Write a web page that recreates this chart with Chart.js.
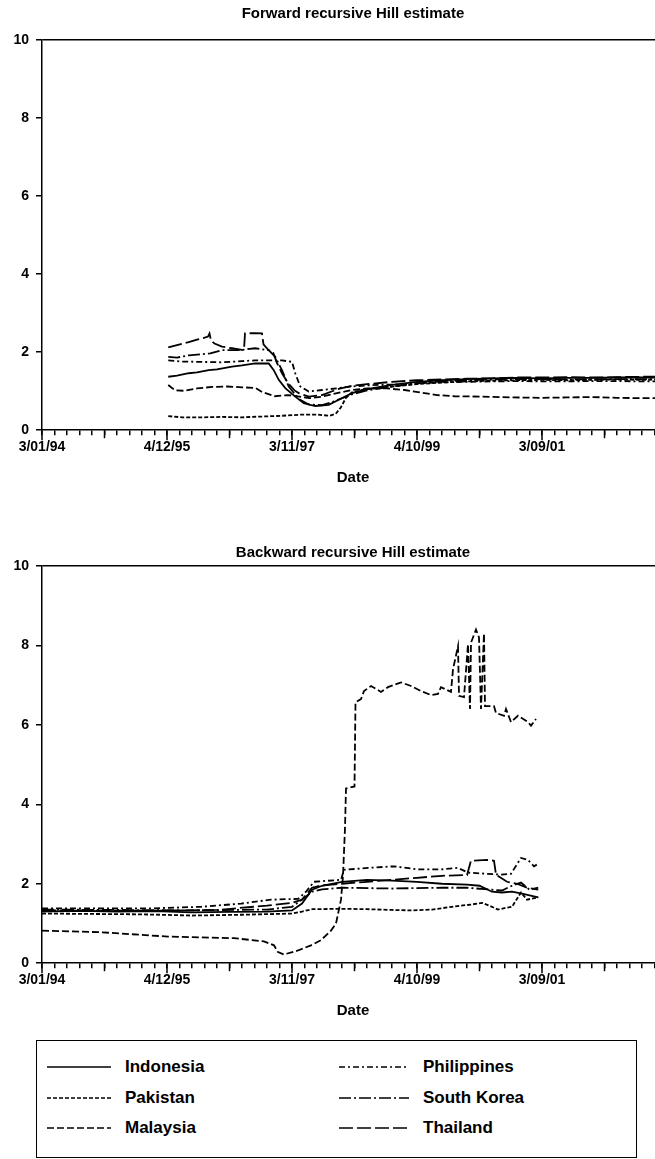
<!DOCTYPE html>
<html><head><meta charset="utf-8">
<script src="https://cdn.jsdelivr.net/npm/chart.js@4.4.1/dist/chart.umd.min.js"></script>
<style>
html,body{margin:0;padding:0;background:#fff;}
body{width:655px;height:1159px;overflow:hidden;position:relative;font-family:"Liberation Sans",Arial,sans-serif;}
.wrap{position:absolute;left:0;}
#w1{top:0;}
#w2{top:530px;}
#legend{position:absolute;left:36px;top:1040px;width:601px;height:118px;border:1.5px solid #000;box-sizing:border-box;}
.item{position:absolute;display:flex;align-items:center;font-weight:bold;font-size:17px;color:#000;height:24px;}
.item svg{margin-right:14px;}
</style></head>
<body>
<div class="wrap" id="w1"><canvas id="c1" width="664" height="491"></canvas></div>
<div class="wrap" id="w2"><canvas id="c2" width="664" height="494"></canvas></div>
<div id="legend"></div>
<script>
// ---- data ----
const dateLabels = ['3/01/94', '4/12/95', '3/11/97', '4/10/99', '3/09/01'];
const labelObs = [0, 500, 1000, 1500, 2000];
const yTicks = [0, 2, 4, 6, 8, 10];
const countries = ['Indonesia', 'Pakistan', 'Malaysia', 'Philippines', 'South Korea', 'Thailand'];

// Forward recursive Hill estimate: [observation index, estimate]
const fwdIndonesia = [[505,1.37],[540,1.40],[587,1.46],[620,1.48],[667,1.54],[700,1.56],[760,1.63],[800,1.66],[853,1.71],[907,1.71],[927,1.54],[947,1.29],[973,1.08],[1013,0.86],[1047,0.69],[1093,0.62],[1147,0.65],[1187,0.78],[1240,0.95],[1300,1.05],[1400,1.16],[1500,1.24],[1600,1.28],[1700,1.31],[1800,1.33],[1900,1.34],[2000,1.33],[2100,1.34],[2200,1.34],[2300,1.35],[2400,1.35],[2470,1.35]];
const fwdPakistan = [[505,0.36],[560,0.33],[640,0.33],[720,0.34],[800,0.33],[880,0.35],[960,0.37],[1040,0.40],[1100,0.40],[1150,0.37],[1175,0.42],[1195,0.58],[1215,0.82],[1240,0.97],[1280,1.03],[1340,1.08],[1420,1.13],[1500,1.18],[1600,1.22],[1700,1.25],[1800,1.27],[1900,1.28],[2000,1.29],[2100,1.28],[2200,1.29],[2300,1.30],[2400,1.29],[2470,1.30]];
const fwdMalaysia = [[505,1.16],[520,1.08],[535,1.02],[570,1.01],[620,1.07],[680,1.11],[740,1.12],[800,1.10],[855,1.08],[880,0.98],[930,0.87],[985,0.90],[1030,0.86],[1070,0.82],[1120,0.86],[1180,0.95],[1240,1.03],[1300,1.07],[1380,1.07],[1450,1.03],[1520,0.96],[1580,0.90],[1650,0.87],[1760,0.86],[1880,0.84],[2000,0.83],[2100,0.84],[2200,0.85],[2300,0.83],[2400,0.82],[2470,0.82]];
const fwdPhilippines = [[505,1.79],[560,1.76],[640,1.75],[720,1.74],[800,1.77],[853,1.79],[960,1.79],[1000,1.75],[1013,1.46],[1033,1.12],[1067,0.99],[1120,1.03],[1240,1.12],[1300,1.15],[1400,1.17],[1500,1.20],[1600,1.23],[1700,1.24],[1800,1.25],[1900,1.26],[2000,1.25],[2100,1.25],[2200,1.26],[2300,1.26],[2400,1.25],[2470,1.25]];
const fwdSouthKorea = [[505,1.88],[540,1.86],[587,1.92],[640,1.95],[673,1.97],[720,2.05],[787,2.05],[853,2.10],[907,2.05],[933,1.88],[960,1.54],[987,1.12],[1027,0.80],[1067,0.66],[1120,0.64],[1160,0.72],[1240,0.92],[1300,1.02],[1400,1.12],[1500,1.20],[1600,1.25],[1700,1.28],[1800,1.30],[1900,1.31],[2000,1.31],[2100,1.30],[2200,1.30],[2300,1.31],[2400,1.31],[2470,1.31]];
const fwdThailand = [[505,2.12],[540,2.18],[587,2.26],[620,2.32],[645,2.36],[664,2.40],[670,2.48],[676,2.30],[690,2.22],[720,2.14],[760,2.10],[800,2.06],[808,2.06],[812,2.48],[850,2.49],[880,2.48],[886,2.20],[905,2.06],[925,1.98],[940,1.72],[960,1.46],[985,1.20],[1010,1.02],[1027,0.95],[1067,0.86],[1120,0.90],[1187,1.06],[1240,1.14],[1300,1.18],[1400,1.24],[1500,1.28],[1600,1.30],[1700,1.32],[1800,1.33],[1900,1.35],[2000,1.35],[2100,1.36],[2200,1.35],[2300,1.36],[2400,1.37],[2470,1.37]];

// Backward recursive Hill estimate: [observation index, estimate]
const bwdIndonesia = [[0,1.30],[150,1.32],[300,1.30],[450,1.31],[600,1.28],[750,1.29],[900,1.30],[1000,1.33],[1040,1.50],[1080,1.85],[1120,1.95],[1200,2.05],[1300,2.10],[1400,2.08],[1500,2.05],[1600,2.00],[1700,1.98],[1750,1.95],[1800,1.80],[1840,1.78],[1880,1.80],[1920,1.75],[1985,1.66]];
const bwdPakistan = [[0,1.25],[200,1.24],[400,1.23],[600,1.20],[800,1.22],[1000,1.25],[1040,1.30],[1080,1.36],[1200,1.37],[1300,1.36],[1400,1.34],[1480,1.33],[1560,1.35],[1640,1.42],[1720,1.48],[1760,1.52],[1800,1.42],[1824,1.35],[1860,1.40],[1880,1.42],[1916,1.78],[1940,1.60],[1985,1.66]];
const bwdMalaysia = [[0,0.82],[236,0.78],[504,0.67],[768,0.63],[888,0.55],[928,0.45],[944,0.28],[968,0.22],[1024,0.32],[1076,0.45],[1116,0.58],[1156,0.82],[1176,1.0],[1196,1.6],[1204,2.2],[1212,3.4],[1216,4.4],[1250,4.45],[1254,6.57],[1276,6.65],[1288,6.85],[1316,6.98],[1356,6.83],[1384,6.95],[1436,7.07],[1476,6.98],[1516,6.85],[1556,6.75],[1584,6.78],[1596,6.95],[1636,6.83],[1644,7.4],[1664,7.98],[1668,6.73],[1688,6.7],[1704,8.03],[1712,6.4],[1716,8.07],[1736,8.4],[1748,8.2],[1756,6.4],[1768,8.3],[1772,6.47],[1808,6.47],[1816,6.3],[1848,6.23],[1856,6.4],[1876,6.07],[1904,6.23],[1944,6.07],[1956,5.98],[1976,6.15]];
const bwdPhilippines = [[0,1.38],[436,1.38],[636,1.42],[796,1.50],[916,1.60],[1024,1.62],[1056,1.80],[1088,2.05],[1196,2.10],[1208,2.35],[1304,2.40],[1408,2.44],[1504,2.36],[1596,2.36],[1664,2.40],[1704,2.28],[1836,2.23],[1876,2.25],[1916,2.65],[1944,2.60],[1968,2.44],[1984,2.50]];
const bwdSouthKorea = [[0,1.35],[300,1.34],[600,1.33],[900,1.35],[1000,1.42],[1040,1.60],[1080,1.80],[1120,1.86],[1200,1.90],[1400,1.88],[1600,1.90],[1700,1.90],[1800,1.85],[1840,1.83],[1880,1.95],[1916,2.03],[1950,1.85],[1985,1.90]];
const bwdThailand = [[0,1.33],[400,1.32],[700,1.34],[900,1.45],[1000,1.52],[1040,1.60],[1080,1.90],[1120,1.96],[1200,2.00],[1300,2.05],[1400,2.10],[1500,2.15],[1600,2.20],[1700,2.22],[1716,2.58],[1780,2.60],[1808,2.58],[1816,2.23],[1860,2.05],[1900,2.00],[1940,1.90],[1985,1.85]];

// ---- styles ----
const FONT = '"Liberation Sans", Arial, sans-serif';
const dashes = {
  'Indonesia': [],
  'Pakistan': [4, 2],
  'Malaysia': [7, 3],
  'Philippines': [6, 3, 2, 3],
  'South Korea': [12, 3, 2, 3],
  'Thailand': [14, 4]
};
const X_MAX = 2488;

function toPts(arr) { return arr.map(p => ({x: p[0], y: p[1]})); }

const majorTicks = {
  id: 'majorTicks',
  afterDraw(chart) {
    const xs = chart.scales.x, ctx = chart.ctx, y0 = chart.chartArea.bottom;
    ctx.save();
    ctx.strokeStyle = '#000';
    ctx.lineWidth = 1.5;
    for (let v = 0; v <= xs.max; v += 250) {
      const px = xs.getPixelForValue(v);
      ctx.beginPath();
      ctx.moveTo(px, y0);
      ctx.lineTo(px, y0 + (v % 500 === 0 ? 10 : 8));
      ctx.stroke();
    }
    ctx.restore();
  }
};

function makeChart(id, title, seriesList, titlePad) {
  const datasets = countries.map((name, i) => ({
    label: name,
    data: toPts(seriesList[i]),
    borderColor: '#000',
    borderWidth: 1.8,
    borderDash: dashes[name],
    pointRadius: 0,
    tension: 0,
    fill: false
  }));
  return new Chart(document.getElementById(id), {
    type: 'line',
    data: {datasets},
    plugins: [majorTicks],
    options: {
      responsive: false,
      animation: false,
      events: [],
      layout: {padding: 0},
      plugins: {
        legend: {display: false},
        tooltip: {enabled: false},
        title: {
          display: true, text: title, fullSize: false, color: '#000',
          font: {family: FONT, size: 15, weight: 'bold'},
          padding: titlePad
        }
      },
      scales: {
        x: {
          type: 'linear', min: 0, max: X_MAX,
          afterBuildTicks(s) { const t = []; for (let v = 0; v <= X_MAX; v += 50) t.push({value: v}); s.ticks = t; },
          ticks: {
            autoSkip: false, maxRotation: 0, padding: 4, color: '#000',
            font: {family: FONT, size: 14, weight: 'bold'},
            callback: (v) => { const i = labelObs.indexOf(v); return i >= 0 ? dateLabels[i] : ''; }
          },
          grid: {drawOnChartArea: false, tickLength: 5, tickColor: '#000', lineWidth: 1.5},
          border: {display: true, color: '#000', width: 1.5},
          title: {display: true, text: 'Date', color: '#000', font: {family: FONT, size: 15, weight: 'bold'}, padding: {top: 9, bottom: 4}}
        },
        y: {
          min: 0, max: 10,
          afterFit(s) { s.width = 42; },
          afterBuildTicks(s) { s.ticks = yTicks.map(v => ({value: v})); },
          ticks: {padding: 7, color: '#000', font: {family: FONT, size: 14, weight: 'bold'}},
          grid: {
            color: (c) => (c.tick && c.tick.value === 10) ? '#000' : 'rgba(0,0,0,0)',
            lineWidth: 1.5, tickLength: 6, tickColor: '#000'
          },
          border: {display: true, color: '#000', width: 1.5}
        }
      }
    }
  });
}

makeChart('c1', 'Forward recursive Hill estimate',
  [fwdIndonesia, fwdPakistan, fwdMalaysia, fwdPhilippines, fwdSouthKorea, fwdThailand],
  {top: 5, bottom: 17});
const chart2 = makeChart('c2', 'Backward recursive Hill estimate',
  [bwdIndonesia, bwdPakistan, bwdMalaysia, bwdPhilippines, bwdSouthKorea, bwdThailand],
  {top: 14, bottom: 4});

// ---- HTML legend built from chart datasets ----
const legend = document.getElementById('legend');
const colLeft = [10, 302];
const rowTop = [14, 45, 75];
chart2.data.datasets.forEach((ds, i) => {
  const col = Math.floor(i / 3), row = i % 3;
  const item = document.createElement('div');
  item.className = 'item';
  item.style.left = colLeft[col] + 'px';
  item.style.top = rowTop[row] + 'px';
  const w = col === 0 ? 64 : 70;
  const svg = document.createElementNS('http://www.w3.org/2000/svg', 'svg');
  svg.setAttribute('width', w); svg.setAttribute('height', 10);
  const ln = document.createElementNS('http://www.w3.org/2000/svg', 'line');
  ln.setAttribute('x1', 0); ln.setAttribute('x2', w); ln.setAttribute('y1', 5); ln.setAttribute('y2', 5);
  ln.setAttribute('stroke', ds.borderColor); ln.setAttribute('stroke-width', 1.5);
  if (ds.borderDash.length) ln.setAttribute('stroke-dasharray', ds.borderDash.join(' '));
  svg.appendChild(ln);
  item.appendChild(svg);
  const span = document.createElement('span');
  span.textContent = ds.label;
  item.appendChild(span);
  legend.appendChild(item);
});
</script>
</body></html>
